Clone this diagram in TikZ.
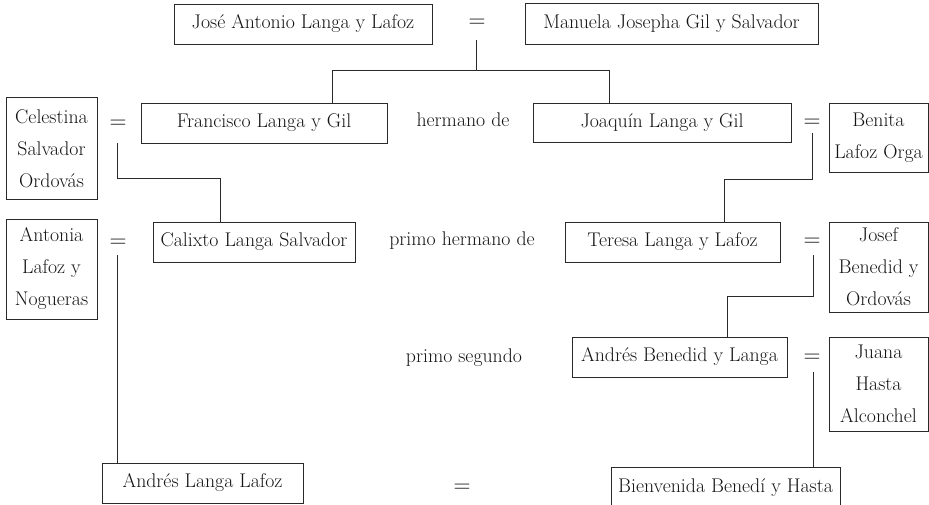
\documentclass[tikz,border=0pt]{standalone}
\usepackage{fontspec}
\definecolor{ink}{HTML}{2A2A2A}
\definecolor{txt}{HTML}{141414}
\newcommand{\fs}{\fontsize{19.8}{32}\selectfont}
\newcommand{\eqfs}{\fontsize{23.5}{28}\selectfont}
\begin{document}
\begin{tikzpicture}[x=1pt,y=-1pt,
  box/.style={draw=ink, line width=0.8pt, text=txt, inner sep=0pt, align=center, font=\fs},
  boldbox/.style={box, line width=1pt},
  lbl/.style={text=txt, inner sep=0pt, font=\fs},
  eqs/.style={text=txt, inner sep=0pt, font=\eqfs},
  link/.style={draw=ink, line width=0.8pt}]
\useasboundingbox (0,0) rectangle (929,505);
\clip (0,0) rectangle (929,505);
% generation 1
\node[box, minimum width=258pt, minimum height=40pt] (jose) at (303,24) {José Antonio Langa y Lafoz};
\node[eqs] (eq1) at (477,23) {=};
\node[box, minimum width=293pt, minimum height=41pt] (manuela) at (671.5,23.5) {Manuela Josepha Gil y Salvador};
% generation 2
\node[boldbox, minimum width=91pt, minimum height=102pt] (celestina) at (51.5,149) {Celestina\\Salvador\\Ordovás};
\node[eqs] (eq2) at (118,124) {=};
\node[box, minimum width=246pt, minimum height=40pt] (fran) at (264,123) {Francisco Langa y Gil};
\node[lbl] (herm) at (463,120) {hermano de};
\node[box, minimum width=258pt, minimum height=39pt] (joaq) at (662,122.5) {Joaquín Langa y Gil};
\node[eqs] (eq3) at (812,123) {=};
\node[box, minimum width=99pt, minimum height=69pt] (benita) at (878.5,137.5) {Benita\\Lafoz Orga};
% generation 3
\node[box, minimum width=91pt, minimum height=100pt] (antonia) at (51.5,269) {Antonia\\Lafoz y\\Nogueras};
\node[eqs] (eq4) at (118,243) {=};
\node[box, minimum width=202pt, minimum height=40pt] (calixto) at (254,242) {Calixto Langa Salvador};
\node[lbl] (primoh) at (462,241) {primo hermano de};
\node[box, minimum width=215pt, minimum height=40pt] (teresa) at (672.5,242) {Teresa Langa y Lafoz};
\node[eqs] (eq5) at (812,242) {=};
\node[box, minimum width=99pt, minimum height=90pt] (josef) at (878.5,267) {Josef\\Benedid y\\Ordovás};
% generation 4
\node[lbl] (primos) at (464,358) {primo segundo};
\node[box, minimum width=215pt, minimum height=40pt] (andresb) at (679.5,357) {Andrés Benedid y Langa};
\node[eqs] (eq6) at (812,358) {=};
\node[box, minimum width=99pt, minimum height=94pt] (juana) at (878.5,384) {Juana\\Hasta\\Alconchel};
% generation 5
\node[box, minimum width=201pt, minimum height=40pt] (andresl) at (202.5,483) {Andrés Langa Lafoz};
\node[eqs] (eq7) at (462,488) {=};
\node[box, minimum width=229pt, text height=17pt, text depth=40pt, inner ysep=8pt, anchor=north] (bienv) at (725.5,467) {Bienvenida Benedí y Hasta};
% connectors
\coordinate (d1) at (476,40);
\coordinate (j1) at (476,70);
\coordinate (k1) at (332,70);
\coordinate (k2) at (609,70);
\draw[link] (d1) -- (j1);
\draw[link] (fran.north -| k1) -- (k1) -- (k2) -- (joaq.north -| k2);
\coordinate (d2) at (117,143);
\coordinate (k3) at (220,178);
\draw[link] (d2) |- (k3) -- (calixto.north -| k3);
\coordinate (d3) at (812,133);
\coordinate (k4) at (724,179);
\draw[link] (d3) |- (k4) -- (teresa.north -| k4);
\coordinate (d4) at (117,255);
\draw[link] (d4) -- (andresl.north -| d4);
\coordinate (d5) at (813,255);
\coordinate (k5) at (727,296);
\draw[link] (d5) |- (k5) -- (andresb.north -| k5);
\coordinate (d6) at (813,372);
\draw[link] (d6) -- (bienv.north -| d6);
\end{tikzpicture}
\end{document}
